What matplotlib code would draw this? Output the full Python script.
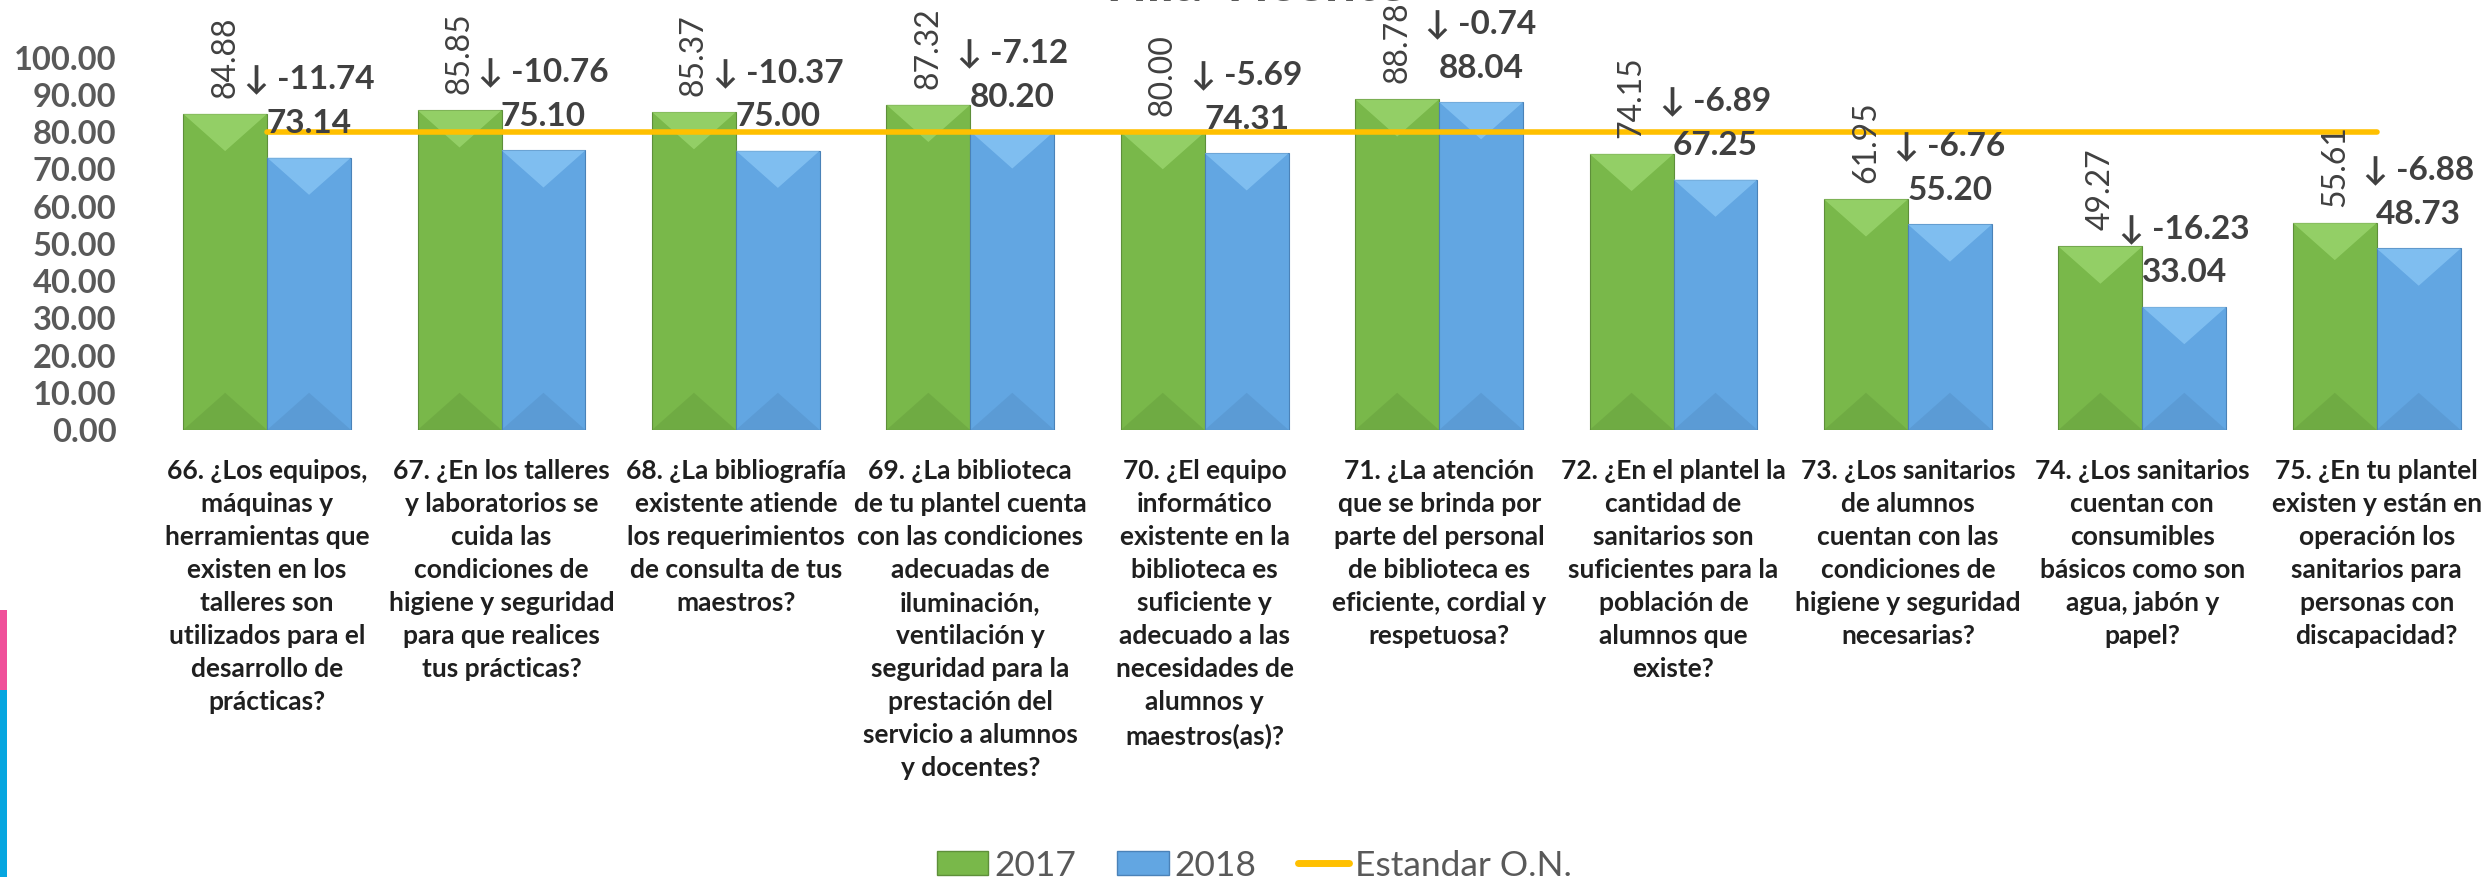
import matplotlib.pyplot as plt
import numpy as np
from matplotlib.patches import Patch, Polygon, Rectangle
from matplotlib.lines import Line2D

plt.rcParams['font.family'] = ['Lato', 'DejaVu Sans']

# Survey items (questions 66-75)
categories = [
    "66. ¿Los equipos,\nmáquinas y\nherramientas que\nexisten en los\ntalleres son\nutilizados para el\ndesarrollo de\nprácticas?",
    "67. ¿En los talleres\ny laboratorios se\ncuida las\ncondiciones de\nhigiene y seguridad\npara que realices\ntus prácticas?",
    "68. ¿La bibliografía\nexistente atiende\nlos requerimientos\nde consulta de tus\nmaestros?",
    "69. ¿La biblioteca\nde tu plantel cuenta\ncon las condiciones\nadecuadas de\niluminación,\nventilación y\nseguridad para la\nprestación del\nservicio a alumnos\ny docentes?",
    "70. ¿El equipo\ninformático\nexistente en la\nbiblioteca es\nsuficiente y\nadecuado a las\nnecesidades de\nalumnos y\nmaestros(as)?",
    "71. ¿La atención\nque se brinda por\nparte del personal\nde biblioteca es\neficiente, cordial y\nrespetuosa?",
    "72. ¿En el plantel la\ncantidad de\nsanitarios son\nsuficientes para la\npoblación de\nalumnos que\nexiste?",
    "73. ¿Los sanitarios\nde alumnos\ncuentan con las\ncondiciones de\nhigiene y seguridad\nnecesarias?",
    "74. ¿Los sanitarios\ncuentan con\nconsumibles\nbásicos como son\nagua, jabón y\npapel?",
    "75. ¿En tu plantel\nexisten y están en\noperación los\nsanitarios para\npersonas con\ndiscapacidad?",
]
values_2017 = [84.88, 85.85, 85.37, 87.32, 80.00, 88.78, 74.15, 61.95, 49.27, 55.61]
values_2018 = [73.14, 75.10, 75.00, 80.20, 74.31, 88.04, 67.25, 55.20, 33.04, 48.73]
differences = [-11.74, -10.76, -10.37, -7.12, -5.69, -0.74, -6.89, -6.76, -16.23, -6.88]
standard = [80] * len(categories)
y_ticks = [0, 10, 20, 30, 40, 50, 60, 70, 80, 90, 100]

GREEN = '#79B84A'
BLUE = '#62A6E2'
ORANGE = '#FFC000'
GRAY = '#595959'
DARK = '#404040'

fig = plt.figure(figsize=(24.86, 8.77), dpi=100)
ax = fig.add_axes([0.0603, 0.5097, 0.9429, 0.4247])

x = np.arange(len(categories))
w = 0.358

bars17 = ax.bar(x - w / 2, values_2017, w, color=GREEN, edgecolor='#5E8F3A', linewidth=0.8, zorder=2)
bars18 = ax.bar(x + w / 2, values_2018, w, color=BLUE, edgecolor='#4A82B8', linewidth=0.8, zorder=2)

# Bevel look: lighter top wedge, darker bottom wedge
depth = 10
for bars, light, dark in [(bars17, '#A6E07A', '#5F9338'), (bars18, '#94CFFA', '#4F88BE')]:
    for r in bars:
        x0, wd, h = r.get_x(), r.get_width(), r.get_height()
        ax.add_patch(Polygon([(x0, h), (x0 + wd, h), (x0 + wd / 2, h - depth)],
                             closed=True, facecolor=light, alpha=0.6, lw=0, zorder=2.2))
        ax.add_patch(Polygon([(x0, 0), (x0 + wd, 0), (x0 + wd / 2, depth)],
                             closed=True, facecolor=dark, alpha=0.35, lw=0, zorder=2.2))

# Standard line
ax.plot(x, standard, color=ORANGE, linewidth=4, solid_capstyle='round', zorder=3)

# Data labels
for xi, v17, v18, d in zip(x, values_2017, values_2018, differences):
    ax.annotate(f'{v17:.2f}', xy=(xi - w / 2, v17), xytext=(0, 16), textcoords='offset pixels',
                rotation=90, ha='center', va='bottom', fontsize=23, color=DARK, zorder=5)
    ax.annotate(f'{v18:.2f}', xy=(xi + w / 2, v18), xytext=(0, 34), textcoords='offset pixels',
                ha='center', va='center', fontsize=24, fontweight='bold', color=DARK, zorder=5)
    ax.annotate(f'↓ {d:.2f}', xy=(xi + w / 2, v18), xytext=(0, 78), textcoords='offset pixels',
                ha='center', va='center', fontsize=24, fontweight='bold', color=DARK, zorder=5)

ax.set_xlim(-0.5, len(categories) - 0.5)
ax.set_ylim(0, 100)
ax.set_yticks(y_ticks, labels=[f'{t:.2f}' for t in y_ticks])
ax.set_xticks(x, labels=categories)
ax.tick_params(axis='y', length=0, pad=24, labelsize=23.5, labelcolor=GRAY)
ax.tick_params(axis='x', length=0, pad=21, labelsize=19, labelcolor='#1F1F1F')
for lab in ax.get_yticklabels():
    lab.set_fontweight('bold')
for lab in ax.get_xticklabels():
    lab.set_fontweight('bold')
    lab.set_linespacing(1.45)
for s in ax.spines.values():
    s.set_visible(False)

# Title (cut off at the top edge in the original slide)
fig.text(0.503, 1 - 1 / 877, 'Villa Vicente', ha='center', va='baseline',
         fontsize=40, fontweight='bold', color=GRAY)

# Decorative strips on the left edge
fig.patches.append(Rectangle((0, 1 - 690 / 877), 7 / 2486, 80 / 877, transform=fig.transFigure,
                             facecolor='#F0509A', lw=0))
fig.patches.append(Rectangle((0, 0), 7 / 2486, 1 - 690 / 877, transform=fig.transFigure,
                             facecolor='#06A6E0', lw=0))

handles = [Patch(facecolor=GREEN, edgecolor='#5E8F3A'),
           Patch(facecolor=BLUE, edgecolor='#4A82B8'),
           Line2D([0], [0], color=ORANGE, linewidth=5, solid_capstyle='round')]
fig.legend(handles, ['2017', '2018', 'Estandar O.N.'], ncol=3, loc='center',
           bbox_to_anchor=(0.5046, 0.013), frameon=False, fontsize=25.5, labelcolor=GRAY,
           handlelength=1.45, handleheight=0.66, handletextpad=0.17, columnspacing=1.17,
           borderpad=0)

plt.savefig('out.png', dpi=100)
print("Generated: out.png")
